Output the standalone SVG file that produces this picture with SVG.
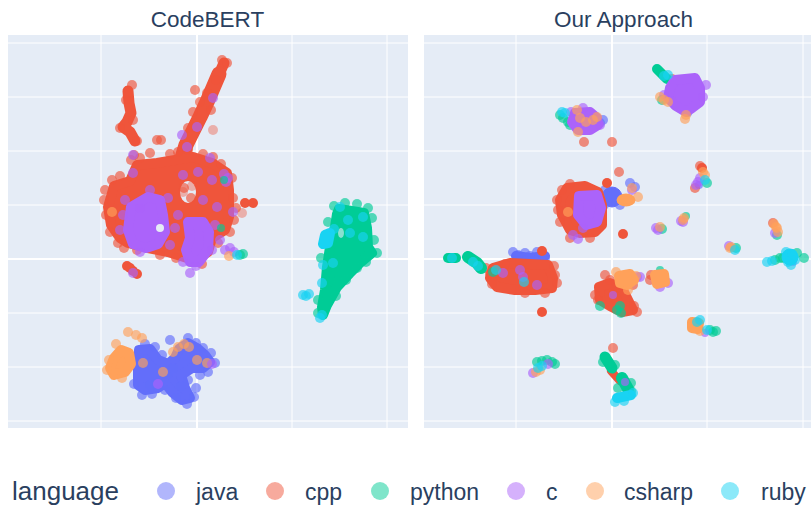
<svg xmlns="http://www.w3.org/2000/svg" width="811" height="506" viewBox="0 0 811 506">
<style>
.bg{fill:#E5ECF6}
.gl{stroke:#fff;stroke-width:1}
.zl{stroke:#fff;stroke-width:2}
.t{font-family:"Liberation Sans",Arial,sans-serif;fill:#2a3f5f}
.B{fill:#636efa;stroke:#636efa}
.R{fill:#EF553B;stroke:#EF553B}
.G{fill:#00cc96;stroke:#00cc96}
.P{fill:#ab63fa;stroke:#ab63fa}
.O{fill:#FFA15A;stroke:#FFA15A}
.C{fill:#19d3f3;stroke:#19d3f3}
.bl{stroke-width:10;stroke-linejoin:round;stroke-linecap:round}
.ln{fill:none;stroke-linejoin:round;stroke-linecap:round}
.b circle,.r circle,.g circle,.p circle,.o circle,.c circle{opacity:.65}
.b{fill:#636efa}.r{fill:#EF553B}.g{fill:#00cc96}.p{fill:#ab63fa}.o{fill:#FFA15A}.c{fill:#19d3f3}
.f circle{opacity:.4}
.s circle{opacity:1}
</style>
<rect width="811" height="506" fill="#fff"/>
<g id="panel-left">
<rect class="bg" x="8" y="35" width="400" height="393"/>
<g id="grid-left">
<line class="gl" x1="8" x2="408" y1="43" y2="43"/>
<line class="gl" x1="8" x2="408" y1="97" y2="97"/>
<line class="gl" x1="8" x2="408" y1="151" y2="151"/>
<line class="gl" x1="8" x2="408" y1="205" y2="205"/>
<line class="zl" x1="8" x2="408" y1="259" y2="259"/>
<line class="gl" x1="8" x2="408" y1="313" y2="313"/>
<line class="gl" x1="8" x2="408" y1="367" y2="367"/>
<line class="gl" x1="8" x2="408" y1="421" y2="421"/>
<line class="gl" x1="101" x2="101" y1="35" y2="428"/>
<line class="zl" x1="197" x2="197" y1="35" y2="428"/>
<line class="gl" x1="292" x2="292" y1="35" y2="428"/>
<line class="gl" x1="387" x2="387" y1="35" y2="428"/>
</g>
<!-- java -->
<path class="B bl" d="M139,350 L150,349 L158,360 L168,364 L175,358 L179,349 L188,343 L197,348 L205,355 L210,362 L203,368 L192,368 L181,375 L185,388 L190,398 L182,400 L172,392 L165,383 L158,388 L145,390 L138,385 L138,368Z"/>
<g class="b">
<circle cx="133" cy="360" r="5"/><circle cx="134" cy="384" r="5"/><circle cx="145" cy="344" r="5"/><circle cx="155" cy="347" r="5"/><circle cx="142" cy="395" r="5"/><circle cx="152" cy="394" r="5"/><circle cx="168" cy="374" r="5"/><circle cx="173" cy="368" r="5"/><circle cx="188" cy="338" r="5"/><circle cx="196" cy="343" r="5"/><circle cx="211" cy="353" r="5"/><circle cx="215" cy="363" r="5"/><circle cx="208" cy="372" r="5"/><circle cx="200" cy="375" r="5"/><circle cx="187" cy="404" r="5"/><circle cx="194" cy="397" r="5"/><circle cx="176" cy="398" r="5"/><circle cx="165" cy="390" r="5"/><circle cx="188" cy="380" r="5"/><circle cx="196" cy="388" r="5"/><circle cx="150" cy="385" r="5"/><circle cx="162" cy="355" r="5"/><circle cx="170" cy="340" r="5"/><circle cx="203" cy="348" r="5"/><circle cx="181" cy="386" r="5"/>
</g>
<path class="O bl" d="M121,350 L129,353 L131,364 L125,372 L114,375 L110,368 L114,358Z"/>
<g class="o">
<circle cx="128" cy="332" r="5"/><circle cx="136" cy="335" r="5"/><circle cx="142" cy="338" r="5"/><circle cx="173" cy="352" r="5"/><circle cx="178" cy="347" r="5"/><circle cx="184" cy="344" r="5"/><circle cx="189" cy="347" r="5"/><circle cx="197" cy="360" r="5"/><circle cx="207" cy="363" r="5"/><circle cx="143" cy="363" r="5"/><circle cx="163" cy="372" r="5"/><circle cx="107" cy="370" r="5"/><circle cx="116" cy="344" r="5"/><circle cx="109" cy="360" r="5"/><circle cx="122" cy="378" r="5"/>
</g>
<g class="p"><circle cx="158" cy="384" r="5"/><circle cx="212" cy="364" r="5"/></g>
<!-- cpp -->
<path class="R ln" stroke-width="11" d="M224,63 L220,72"/>
<path class="R ln" stroke-width="15" d="M219,74 L213,88 L207,102 L200,117 L193,131 L186,145 L182,158"/>
<path class="R ln" stroke-width="11" d="M128,91 L129,103 L131,113 L127,122 L123,127 L130,132 L135,141"/>
<path class="R bl" d="M108,207 L114,186 L130,181 L137,165 L157,163 L175,160 L193,157 L212,163 L227,173 L229,190 L229,217 L225,230 L212,238 L208,252 L198,258 L187,258 L168,252 L148,248 L128,243 L120,238 L111,225Z"/>
<ellipse class="bg" cx="188" cy="192" rx="8" ry="11"/>
<g class="r">
<circle cx="222" cy="60" r="5"/><circle cx="227" cy="63" r="5"/><circle cx="216" cy="80" r="5"/><circle cx="195" cy="90" r="5"/><circle cx="193" cy="112" r="5"/><circle cx="188" cy="128" r="5"/><circle cx="211" cy="110" r="5"/><circle cx="120" cy="128" r="5"/><circle cx="137" cy="141" r="5"/><circle cx="126" cy="100" r="5"/><circle cx="134" cy="155" r="5"/><circle cx="157" cy="140" r="5"/><circle cx="161" cy="140" r="5"/><circle cx="104" cy="200" r="5"/><circle cx="106" cy="215" r="5"/><circle cx="112" cy="180" r="5"/><circle cx="118" cy="243" r="5"/><circle cx="124" cy="248" r="5"/><circle cx="213" cy="157" r="5"/><circle cx="233" cy="198" r="5"/><circle cx="234" cy="220" r="5"/><circle cx="218" cy="243" r="5"/><circle cx="202" cy="264" r="5"/><circle cx="176" cy="258" r="5"/><circle cx="150" cy="153" r="5"/><circle cx="188" cy="150" r="5"/><circle cx="184" cy="188" r="5"/><circle cx="191" cy="198" r="5"/><circle cx="131" cy="160" r="5"/><circle cx="140" cy="158" r="5"/><circle cx="170" cy="154" r="5"/><circle cx="203" cy="154" r="5"/><circle cx="221" cy="164" r="5"/><circle cx="232" cy="178" r="5"/><circle cx="236" cy="208" r="5"/><circle cx="230" cy="232" r="5"/><circle cx="160" cy="255" r="5"/><circle cx="137" cy="250" r="5"/><circle cx="110" cy="232" r="5"/><circle cx="105" cy="190" r="5"/><circle cx="120" cy="176" r="5"/><circle cx="207" cy="93" r="5"/><circle cx="200" cy="102" r="5"/><circle cx="178" cy="152" r="5"/><circle cx="132" cy="85" r="5"/><circle cx="133" cy="120" r="5"/>
</g>
<g class="f r"><circle cx="183" cy="192" r="5"/><circle cx="192" cy="186" r="5"/><circle cx="242" cy="213" r="5"/><circle cx="213" cy="130" r="5"/></g>
<g class="s r"><circle cx="245" cy="203" r="5"/><circle cx="253" cy="203" r="5"/><circle cx="127" cy="266" r="5"/><circle cx="133" cy="271" r="5"/><circle cx="130" cy="268" r="5"/><circle cx="137" cy="274" r="5"/></g>
<!-- python -->
<path class="G bl" d="M339,209 L364,213 L367,228 L368,247 L372,253 L360,263 L350,273 L337,287 L327,305 L323,315 L322,307 L325,290 L327,267 L330,247 L335,227 L337,214Z"/>
<ellipse class="bg" cx="341" cy="233" rx="3" ry="5" opacity=".6"/>
<g class="g">
<circle cx="377" cy="253" r="5"/><circle cx="372" cy="218" r="5"/><circle cx="334" cy="206" r="5"/><circle cx="345" cy="203" r="5"/><circle cx="357" cy="204" r="5"/><circle cx="368" cy="208" r="5"/><circle cx="318" cy="300" r="5"/><circle cx="357" cy="268" r="5"/><circle cx="346" cy="280" r="5"/><circle cx="330" cy="280" r="5"/><circle cx="336" cy="296" r="5"/><circle cx="318" cy="313" r="5"/><circle cx="374" cy="240" r="5"/><circle cx="328" cy="222" r="5"/><circle cx="321" cy="258" r="5"/><circle cx="366" cy="262" r="5"/>
</g>
<!-- c -->
<path class="P bl" d="M131,207 L148,197 L160,200 L163,215 L165,232 L158,244 L146,248 L133,244 L128,230Z"/>
<path class="P bl" d="M188,222 L203,222 L209,232 L208,250 L199,262 L190,262 L186,250 L190,238Z"/>
<circle class="bg" cx="160" cy="228" r="4"/>
<g class="p">
<circle cx="213" cy="98" r="5"/><circle cx="197" cy="127" r="5"/><circle cx="182" cy="135" r="5"/><circle cx="187" cy="147" r="5"/><circle cx="133" cy="155" r="5"/><circle cx="133" cy="173" r="5"/><circle cx="210" cy="158" r="5"/><circle cx="183" cy="175" r="5"/><circle cx="198" cy="172" r="5"/><circle cx="212" cy="180" r="5"/><circle cx="203" cy="200" r="5"/><circle cx="217" cy="207" r="5"/><circle cx="233" cy="212" r="5"/><circle cx="123" cy="215" r="5"/><circle cx="140" cy="208" r="5"/><circle cx="120" cy="230" r="5"/><circle cx="215" cy="225" r="5"/><circle cx="220" cy="240" r="5"/><circle cx="224" cy="174" r="5"/><circle cx="228" cy="178" r="5"/><circle cx="226" cy="182" r="5"/><circle cx="190" cy="273" r="5"/><circle cx="133" cy="273" r="5"/><circle cx="225" cy="250" r="5"/><circle cx="230" cy="248" r="5"/><circle cx="234" cy="252" r="5"/><circle cx="170" cy="245" r="5"/><circle cx="178" cy="215" r="5"/><circle cx="150" cy="190" r="5"/><circle cx="168" cy="198" r="5"/><circle cx="183" cy="262" r="5"/><circle cx="212" cy="250" r="5"/><circle cx="125" cy="200" r="5"/><circle cx="140" cy="252" r="5"/><circle cx="196" cy="266" r="5"/><circle cx="175" cy="228" r="5"/>
</g>
<g class="o"><circle cx="112" cy="212" r="5"/><circle cx="229" cy="256" r="5"/></g>
<g class="g"><circle cx="221" cy="228" r="4"/><circle cx="224" cy="180" r="4"/><circle cx="240" cy="255" r="5"/><circle cx="243" cy="254" r="5"/></g>
<!-- ruby -->
<path class="C bl" d="M325,235 L330,233 L328,243 L323,244Z"/>
<g class="c">
<circle cx="340" cy="207" r="5"/><circle cx="348" cy="220" r="5"/><circle cx="363" cy="217" r="5"/><circle cx="363" cy="237" r="5"/><circle cx="350" cy="233" r="5"/><circle cx="333" cy="263" r="5"/><circle cx="323" cy="265" r="5"/><circle cx="322" cy="283" r="5"/><circle cx="303" cy="295" r="5"/><circle cx="309" cy="294" r="5"/><circle cx="306" cy="296" r="5"/><circle cx="320" cy="318" r="5"/><circle cx="322" cy="315" r="5"/><circle cx="237" cy="255" r="5"/><circle cx="334" cy="229" r="5"/>
</g>
</g>
<g id="panel-right">
<rect class="bg" x="424" y="35" width="387" height="393"/>
<g id="grid-right">
<line class="gl" x1="424" x2="811" y1="43" y2="43"/>
<line class="gl" x1="424" x2="811" y1="97" y2="97"/>
<line class="gl" x1="424" x2="811" y1="151" y2="151"/>
<line class="gl" x1="424" x2="811" y1="205" y2="205"/>
<line class="zl" x1="424" x2="811" y1="259" y2="259"/>
<line class="gl" x1="424" x2="811" y1="313" y2="313"/>
<line class="gl" x1="424" x2="811" y1="367" y2="367"/>
<line class="gl" x1="424" x2="811" y1="421" y2="421"/>
<line class="gl" x1="516" x2="516" y1="35" y2="428"/>
<line class="zl" x1="612" x2="612" y1="35" y2="428"/>
<line class="gl" x1="707" x2="707" y1="35" y2="428"/>
<line class="gl" x1="803" x2="803" y1="35" y2="428"/>
</g>
<!-- java -->
<path class="B ln" stroke-width="10" d="M516,256 L530,258 L545,256"/>
<circle class="B" cx="612" cy="197" r="10"/>
<g class="b">
<circle cx="603" cy="120" r="5"/><circle cx="600" cy="123" r="5"/><circle cx="630" cy="183" r="5"/><circle cx="635" cy="187" r="5"/><circle cx="513" cy="252" r="5"/><circle cx="518" cy="255" r="5"/><circle cx="525" cy="253" r="5"/><circle cx="537" cy="252" r="5"/><circle cx="542" cy="255" r="5"/><circle cx="545" cy="258" r="5"/><circle cx="530" cy="256" r="5"/><circle cx="520" cy="262" r="5"/><circle cx="604" cy="205" r="5"/><circle cx="620" cy="205" r="5"/><circle cx="605" cy="190" r="5"/><circle cx="688" cy="113" r="4"/><circle cx="699" cy="185" r="4"/>
</g>
<!-- cpp -->
<path class="R bl" d="M567,188 L585,186 L598,192 L602,205 L602,225 L595,232 L580,233 L570,230 L562,215 L560,200Z"/>
<path class="R bl" d="M493,268 L510,263 L530,264 L548,265 L553,278 L552,288 L535,290 L515,290 L497,287 L490,278Z"/>
<path class="R bl" d="M599,287 L610,283 L622,288 L628,300 L633,310 L622,312 L610,306 L600,300Z"/>
<path class="R ln" stroke-width="8" d="M611,371 L620,381"/>
<g class="r">
<circle cx="557" cy="200" r="5"/><circle cx="558" cy="210" r="5"/><circle cx="560" cy="222" r="5"/><circle cx="570" cy="238" r="5"/><circle cx="590" cy="238" r="5"/><circle cx="562" cy="190" r="5"/><circle cx="570" cy="184" r="5"/><circle cx="584" cy="142" r="5"/><circle cx="612" cy="142" r="5"/><circle cx="619" cy="172" r="5"/><circle cx="672" cy="78" r="4"/><circle cx="486" cy="268" r="5"/><circle cx="490" cy="274" r="5"/><circle cx="555" cy="275" r="5"/><circle cx="557" cy="283" r="5"/><circle cx="545" cy="293" r="5"/><circle cx="492" cy="284" r="5"/><circle cx="633" cy="285" r="5"/><circle cx="595" cy="295" r="5"/><circle cx="598" cy="300" r="5"/><circle cx="650" cy="280" r="5"/><circle cx="773" cy="223" r="5"/><circle cx="613" cy="348" r="5"/><circle cx="695" cy="188" r="5"/><circle cx="637" cy="312" r="5"/><circle cx="634" cy="306" r="5"/><circle cx="610" cy="280" r="5"/><circle cx="605" cy="275" r="5"/><circle cx="651" cy="275" r="5"/><circle cx="505" cy="264" r="5"/><circle cx="554" cy="266" r="5"/><circle cx="525" cy="293" r="5"/><circle cx="700" cy="166" r="5"/>
</g>
<g class="s r"><circle cx="607" cy="183" r="5"/><circle cx="623" cy="234" r="5"/><circle cx="542" cy="251" r="5"/><circle cx="542" cy="312" r="5"/><circle cx="702" cy="168" r="5"/></g>
<!-- python -->
<path class="G ln" stroke-width="10" d="M448,258 L456,258"/>
<path class="G ln" stroke-width="12" d="M468,257 L477,263 L481,268"/>
<path class="G ln" stroke-width="10" d="M657,69 L667,79"/>
<path class="G ln" stroke-width="11" d="M605,357 L612,368"/>
<path class="G ln" stroke-width="12" d="M622,378 L628,389"/>
<g class="g">
<circle cx="560" cy="115" r="5"/><circle cx="563" cy="118" r="5"/><circle cx="568" cy="122" r="5"/><circle cx="570" cy="125" r="5"/><circle cx="707" cy="183" r="5"/><circle cx="662" cy="229" r="5"/><circle cx="686" cy="216" r="4"/><circle cx="736" cy="248" r="5"/><circle cx="777" cy="235" r="5"/><circle cx="783" cy="258" r="5"/><circle cx="797" cy="253" r="5"/><circle cx="780" cy="258" r="5"/><circle cx="775" cy="260" r="5"/><circle cx="493" cy="272" r="5"/><circle cx="617" cy="310" r="5"/><circle cx="620" cy="306" r="5"/><circle cx="600" cy="306" r="5"/><circle cx="621" cy="313" r="5"/><circle cx="710" cy="330" r="5"/><circle cx="713" cy="332" r="5"/><circle cx="716" cy="331" r="5"/><circle cx="537" cy="362" r="5"/><circle cx="542" cy="361" r="5"/><circle cx="547" cy="360" r="5"/><circle cx="552" cy="362" r="5"/><circle cx="555" cy="364" r="5"/><circle cx="603" cy="362" r="5"/><circle cx="615" cy="365" r="5"/><circle cx="631" cy="383" r="5"/><circle cx="631" cy="391" r="5"/><circle cx="618" cy="388" r="5"/><circle cx="660" cy="270" r="4"/><circle cx="662" cy="100" r="5"/><circle cx="804" cy="258" r="5"/>
</g>
<!-- c -->
<path class="P bl" d="M675,80 L695,78 L700,88 L700,102 L692,108 L686,112 L676,106 L668,98 L670,88Z"/>
<path class="P bl" d="M575,113 L590,112 L597,118 L598,125 L590,130 L578,130 L572,122Z"/>
<path class="P bl" d="M579,196 L597,195 L601,208 L597,222 L586,225 L578,215Z"/>
<g class="p">
<circle cx="671" cy="100" r="5"/><circle cx="675" cy="105" r="5"/><circle cx="706" cy="85" r="5"/><circle cx="703" cy="97" r="5"/><circle cx="664" cy="95" r="5"/><circle cx="571" cy="112" r="5"/><circle cx="583" cy="108" r="5"/><circle cx="600" cy="125" r="5"/><circle cx="632" cy="190" r="5"/><circle cx="578" cy="239" r="5"/><circle cx="573" cy="235" r="5"/><circle cx="583" cy="228" r="5"/><circle cx="698" cy="182" r="5"/><circle cx="696" cy="185" r="5"/><circle cx="700" cy="178" r="5"/><circle cx="656" cy="228" r="5"/><circle cx="658" cy="230" r="5"/><circle cx="681" cy="221" r="5"/><circle cx="683" cy="222" r="5"/><circle cx="729" cy="246" r="5"/><circle cx="775" cy="233" r="5"/><circle cx="793" cy="262" r="4"/><circle cx="523" cy="277" r="5"/><circle cx="537" cy="285" r="5"/><circle cx="520" cy="270" r="5"/><circle cx="503" cy="273" r="5"/><circle cx="637" cy="277" r="5"/><circle cx="640" cy="277" r="5"/><circle cx="668" cy="283" r="5"/><circle cx="660" cy="287" r="5"/><circle cx="533" cy="373" r="5"/><circle cx="548" cy="364" r="5"/><circle cx="705" cy="333" r="4"/><circle cx="625" cy="382" r="4"/><circle cx="613" cy="295" r="4"/>
</g>
<!-- csharp -->
<ellipse class="O" cx="626" cy="200" rx="8" ry="5" stroke-width="3"/>
<path class="O bl" d="M619,276 L630,274 L634,280 L627,285 L620,283Z"/>
<path class="O bl" d="M655,275 L664,274 L665,282 L657,284Z"/>
<path class="O bl" d="M692,322 L699,323 L698,329 L692,328Z"/>
<g class="o">
<circle cx="660" cy="97" r="5"/><circle cx="664" cy="100" r="5"/><circle cx="668" cy="102" r="5"/><circle cx="686" cy="115" r="5"/><circle cx="685" cy="119" r="5"/><circle cx="577" cy="110" r="5"/><circle cx="593" cy="120" r="5"/><circle cx="597" cy="117" r="5"/><circle cx="578" cy="132" r="5"/><circle cx="586" cy="122" r="5"/><circle cx="580" cy="118" r="5"/><circle cx="638" cy="197" r="5"/><circle cx="632" cy="188" r="5"/><circle cx="568" cy="212" r="5"/><circle cx="703" cy="172" r="5"/><circle cx="705" cy="175" r="5"/><circle cx="660" cy="227" r="5"/><circle cx="684" cy="218" r="5"/><circle cx="683" cy="220" r="5"/><circle cx="731" cy="247" r="5"/><circle cx="730" cy="248" r="5"/><circle cx="774" cy="224" r="5"/><circle cx="777" cy="228" r="5"/><circle cx="778" cy="232" r="5"/><circle cx="776" cy="227" r="5"/><circle cx="616" cy="272" r="5"/><circle cx="628" cy="290" r="5"/><circle cx="636" cy="276" r="5"/><circle cx="536" cy="372" r="5"/><circle cx="540" cy="370" r="5"/><circle cx="700" cy="331" r="5"/>
</g>
<!-- ruby -->
<circle class="C" cx="790" cy="257" r="8"/>
<path class="C ln" stroke-width="10" d="M617,398 L631,395"/>
<g class="c">
<circle cx="664" cy="76" r="5"/><circle cx="668" cy="75" r="5"/><circle cx="565" cy="113" r="5"/><circle cx="562" cy="112" r="5"/><circle cx="705" cy="180" r="5"/><circle cx="735" cy="250" r="5"/><circle cx="786" cy="252" r="5"/><circle cx="792" cy="254" r="5"/><circle cx="795" cy="260" r="5"/><circle cx="788" cy="262" r="5"/><circle cx="791" cy="265" r="5"/><circle cx="767" cy="262" r="5"/><circle cx="772" cy="261" r="5"/><circle cx="452" cy="258" r="5"/><circle cx="473" cy="262" r="5"/><circle cx="478" cy="266" r="5"/><circle cx="496" cy="270" r="5"/><circle cx="524" cy="282" r="5"/><circle cx="697" cy="322" r="5"/><circle cx="700" cy="320" r="5"/><circle cx="707" cy="330" r="5"/><circle cx="538" cy="368" r="5"/><circle cx="542" cy="366" r="5"/><circle cx="615" cy="402" r="5"/><circle cx="633" cy="393" r="5"/><circle cx="624" cy="401" r="5"/>
</g>
</g>
<g id="titles">
<text class="t" x="207.5" y="27" font-size="22.5" text-anchor="middle">CodeBERT</text>
<text class="t" x="623.5" y="27" font-size="22.5" text-anchor="middle">Our Approach</text>
</g>
<g id="legend">
<text class="t" x="12" y="500" font-size="26">language</text>
<circle cx="166" cy="491" r="9" fill="#636efa" opacity=".5"/><text class="t" x="196" y="500" font-size="23">java</text>
<circle cx="275" cy="491" r="9" fill="#EF553B" opacity=".5"/><text class="t" x="305" y="500" font-size="23">cpp</text>
<circle cx="380" cy="491" r="9" fill="#00cc96" opacity=".5"/><text class="t" x="410" y="500" font-size="23">python</text>
<circle cx="516" cy="491" r="9" fill="#ab63fa" opacity=".5"/><text class="t" x="546" y="500" font-size="23">c</text>
<circle cx="595" cy="491" r="9" fill="#FFA15A" opacity=".5"/><text class="t" x="624" y="500" font-size="23">csharp</text>
<circle cx="730" cy="491" r="9" fill="#19d3f3" opacity=".5"/><text class="t" x="761" y="500" font-size="23">ruby</text>
</g>
</svg>
